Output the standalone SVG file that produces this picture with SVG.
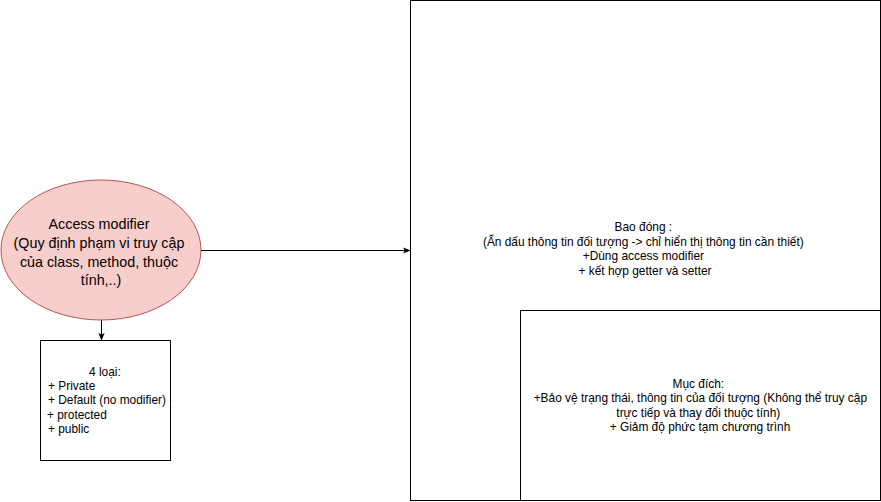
<svg xmlns="http://www.w3.org/2000/svg" width="881" height="502" viewBox="0 0 881 502">
<defs>
<style>
.box{fill:#ffffff;stroke:#000000;stroke-width:1}
.t{font-family:"Liberation Sans",Arial,sans-serif;fill:#000000}
.s{font-size:11.9px}
.e{font-size:14.3px}
.edge{fill:none;stroke:#000000;stroke-width:1}
</style>
<marker id="arr" viewBox="0 0 10 10" refX="9" refY="5" markerWidth="8" markerHeight="8" markerUnits="userSpaceOnUse" orient="auto">
<path d="M0,1 L10,5 L0,9 L2.5,5 Z" fill="#000000"/>
</marker>
</defs>
<rect width="881" height="502" fill="#ffffff"/>
<g id="encap">
<rect class="box" x="410.5" y="0.5" width="470" height="500"/>
<text class="t s" text-anchor="middle">
<tspan x="645" y="231">Bao đóng :</tspan>
<tspan x="645" y="245.5">(Ẩn dấu thông tin đối tượng -&gt; chỉ hiển thị thông tin cần thiết)</tspan>
<tspan x="645" y="260">+Dùng access modifier</tspan>
<tspan x="645" y="274.5">+ kết hợp getter và setter</tspan>
</text>
</g>
<g id="purpose">
<rect class="box" x="520.5" y="310.5" width="360" height="190"/>
<text class="t s" text-anchor="middle">
<tspan x="700" y="387.5">Mục đích:</tspan>
<tspan x="702" y="402">+Bảo vệ trạng thái, thông tin của đối tượng (Không thể truy cập</tspan>
<tspan x="700" y="416.5">trực tiếp và thay đổi thuộc tính)</tspan>
<tspan x="700" y="431">+ Giảm độ phức tạm chương trình</tspan>
</text>
</g>
<g id="access">
<ellipse cx="101" cy="250" rx="100" ry="70" fill="#f8cecc" stroke="#b85450" stroke-width="1"/>
<text class="t e" text-anchor="middle">
<tspan x="101" y="229">Access modifier</tspan>
<tspan x="101" y="248">(Quy định phạm vi truy cập</tspan>
<tspan x="101" y="267">của class, method, thuộc</tspan>
<tspan x="101" y="285">tính,..)</tspan>
</text>
</g>
<g id="types">
<rect class="box" x="40.5" y="340.5" width="130" height="120"/>
<text class="t s">
<tspan x="89" y="376">4 loại:</tspan>
<tspan x="48" y="390">+ Private</tspan>
<tspan x="48" y="404">+ Default (no modifier)</tspan>
<tspan x="47" y="418.5">+ protected</tspan>
<tspan x="48" y="432.5">+ public</tspan>
</text>
</g>
<g id="connectors">
<path class="edge" d="M201,250.5 L410,250.5" marker-end="url(#arr)"/>
<path class="edge" d="M101.5,320 L101.5,340" marker-end="url(#arr)"/>
</g>
</svg>
